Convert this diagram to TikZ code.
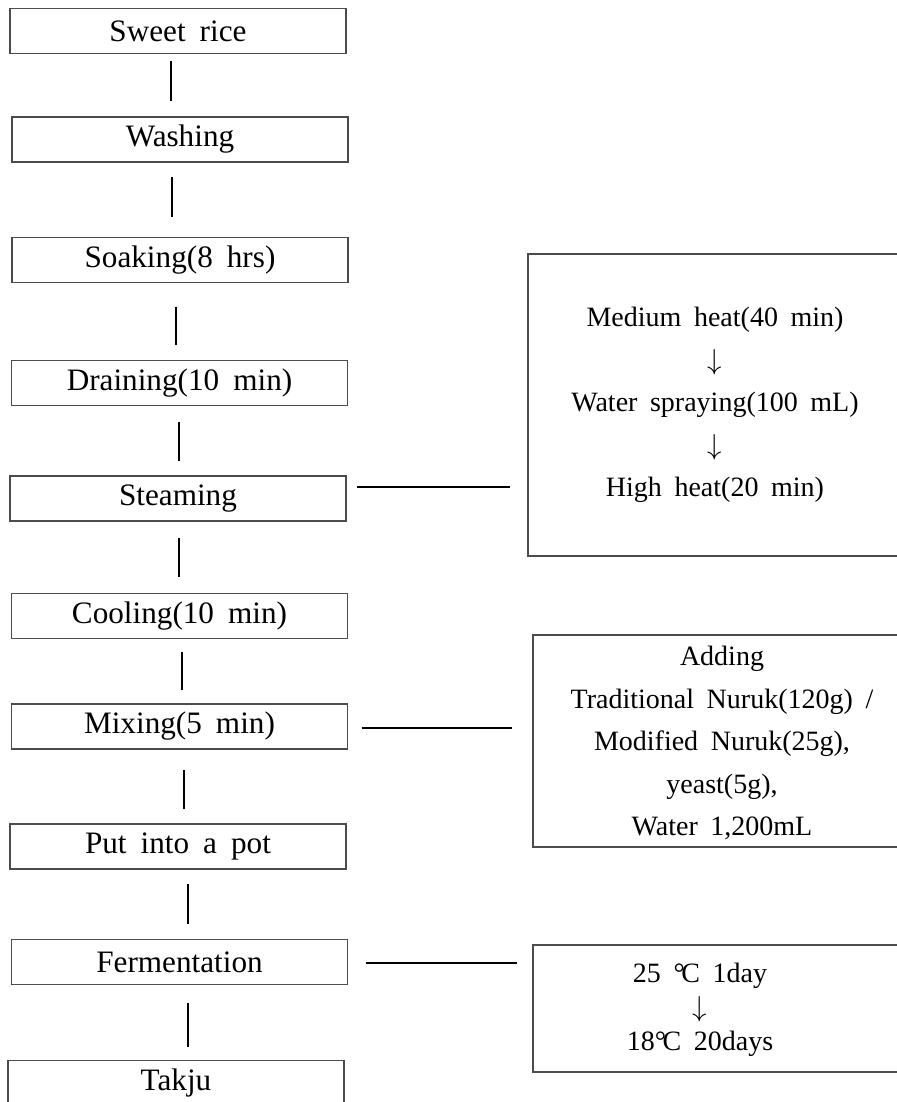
\documentclass[tikz,border=0pt]{standalone}
\usepackage{fontspec}
\setmainfont{Liberation Serif}
\newcommand{\flowfont}{\fontsize{14}{21.25}\selectfont\spaceskip=0.45em\relax}
\newcommand{\procfont}{\fontsize{15.6}{18}\selectfont\spaceskip=0.45em\relax}
\newcommand{\tempfont}{\fontsize{14}{17}\selectfont\spaceskip=0.45em\relax}
\newcommand{\degc}{°\kern-0.12em C}
\tikzset{proc/.style={draw=black!70, line width=0.6pt, minimum width=168pt, minimum height=22.5pt, inner sep=0pt, outer sep=0pt, font=\procfont},
side/.style={draw=black!70, line width=0.6pt, inner sep=0pt, outer sep=0pt, anchor=north west},
note/.style={align=center, inner sep=0pt, font=\flowfont},
%connectors between the steps
link/.style={line width=1.3pt}}

\begin{document}
\begin{tikzpicture}[x=0.5pt,y=-0.5pt]

\useasboundingbox (0,0) rectangle (897,1102);
\clip (0,0) rectangle (897,1102);

\node[proc] (sweet) at (178,31) {Sweet rice};
\node[proc] (wash) at (180,139.5) {Washing};
\node[proc] (soak) at (180,260) {Soaking(8 hrs)};
\node[proc] (drain) at (179.5,383) {Draining(10 min)};
\node[proc] (steam) at (178,498.5) {Steaming};
\node[proc] (cool) at (179.5,616) {Cooling(10 min)};
\node[proc] (mix) at (179.5,726.5) {Mixing(5 min)};
\node[proc] (pot) at (178,846.5) {Put into a pot};
\node[proc] (ferm) at (179.5,962) {Fermentation};
\node[proc] (takju) at (176,1083) {Takju};

\node[side, minimum width=200pt, minimum height=151pt] (heat) at (528,254) {};
\node[side, minimum width=200pt, minimum height=106pt] (add) at (533,635) {};
\node[side, minimum width=200pt, minimum height=63.5pt] (temp) at (533,945) {};

\node[note] (heattxt) at (715,405) {Medium heat(40 min)\\$\downarrow$\\Water spraying(100 mL)\\$\downarrow$\\High heat(20 min)};
\node[note] (addtxt) at (722,743) {Adding\\Traditional Nuruk(120g) /\\Modified Nuruk(25g),\\yeast(5g),\\Water 1,200mL};
\node[note, font=\tempfont] (temptxt) at (700,1010) {25 \degc{} 1day\\$\downarrow$\\18\degc{} 20days};

\foreach \a/\b/\x/\s/\e in {sweet/wash/171/8/16, wash/soak/172/15/21, soak/drain/176/24/16,
    drain/steam/179/16/15, steam/cool/179/17/17, cool/mix/182/13/14,
    mix/pot/184/21/15, pot/ferm/188/15/16, ferm/takju/188/18/14}
    \draw[link, shorten <=\s*0.5pt, shorten >=\e*0.5pt] (\a.south -| \x,0) -- (\b.north -| \x,0);

\draw[link, shorten <=5.5pt, shorten >=9pt] (steam.east |- 0,487) -- (heat.west |- 0,487);
\draw[link, shorten <=7pt, shorten >=10.5pt] (mix.east |- 0,728) -- (add.west |- 0,728);
\draw[link, shorten <=9pt, shorten >=8pt] (ferm.east |- 0,963) -- (temp.west |- 0,963);

\end{tikzpicture}
\end{document}
